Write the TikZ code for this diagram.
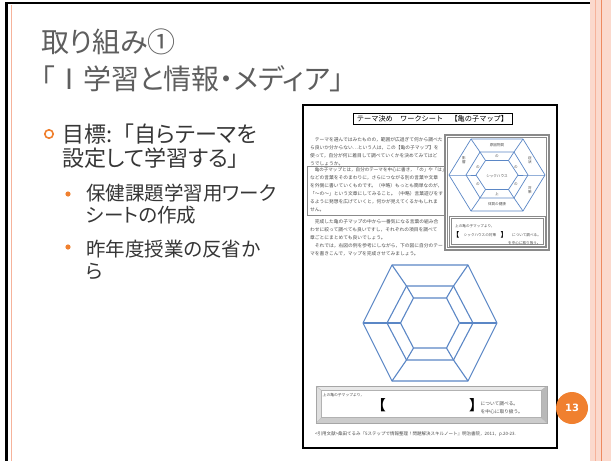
\documentclass[tikz,border=0pt]{standalone}
\usepackage{fontspec}
\newfontfamily\jp[RawFeature=+palt]{Noto Sans CJK JP}
\newfontfamily\jpm{Noto Sans CJK JP}
\newfontfamily\numfont{DejaVu Sans}
\definecolor{titlegray}{HTML}{5E5E5E}
\definecolor{bodygray}{HTML}{363636}
\definecolor{accent}{HTML}{F0802F}
\definecolor{salmonbg}{HTML}{FBD9CD}
\definecolor{salmonline}{HTML}{F6B39B}
\definecolor{salmondark}{HTML}{EE8A60}
\definecolor{hexblue}{HTML}{5B87C6}
\definecolor{wsgray}{HTML}{4A4A4A}
\definecolor{framegray}{HTML}{8A8A8A}
\newcommand\hexcoords[6]{%
  \coordinate (#1-1) at (#2-#4,#3);
  \coordinate (#1-2) at (#2-#5,#3-#6);
  \coordinate (#1-3) at (#2+#5,#3-#6);
  \coordinate (#1-4) at (#2+#4,#3);
  \coordinate (#1-5) at (#2+#5,#3+#6);
  \coordinate (#1-6) at (#2-#5,#3+#6);}
\tikzset{
  wstext/.style={anchor=base west, inner sep=0pt, font=\jpm\fontsize{4.75}{5}\selectfont, text=wsgray},
  tinytext/.style={inner sep=0pt, font=\jpm\fontsize{3.6}{4.2}\selectfont, text=wsgray, align=center},
  hexline/.style={draw=hexblue, line width=1.1pt, line join=round},
  smallhex/.style={draw=hexblue, line width=0.7pt, line join=round},
  titletext/.style={anchor=base west, inner sep=0pt, font=\jp\fontsize{28}{28}\selectfont, text=titlegray},
  bodytext/.style={anchor=base west, inner sep=0pt, font=\jp\fontsize{22}{22}\selectfont, text=bodygray},
  subtext/.style={anchor=base west, inner sep=0pt, font=\jp\fontsize{19.5}{19.5}\selectfont, text=bodygray},
}
\begin{document}
\begin{tikzpicture}[x=1pt,y=-1pt]
\useasboundingbox (0,0) rectangle (611,461);
\fill[white] (0,0) rectangle (611,461);
% right decorative stripes
\fill[salmonbg] (590,0) rectangle (611,461);
\draw[salmonline, line width=0.6pt] (595,0) -- (595,461);
\draw[salmondark, line width=0.8pt] (601,0) -- (601,461);
% frame lines
\draw[black, line width=2.5pt] (5,3) -- (590,3);
\draw[black, line width=3.5pt] (6.5,2) -- (6.5,461);
\draw[salmonline, line width=1.5pt] (11.5,5) -- (11.5,461);
% title
\node[titletext] (t1) at (41,52.6) {取り組み①};
\node[titletext] (t2) at (41,89) {「Ⅰ学習と情報・メディア」};
% bullets
\draw[accent, line width=1.6pt] (49,134) circle (4.2);
\node[bodytext] (b1) at (62,142) {目標:{\jpm 「}自らテーマを};
\node[bodytext] (b2) at (62,166.5) {設定して学習する」};
\fill[accent] (68,194) circle (2.6);
\node[subtext] (s1) at (86,200.4) {保健課題学習用ワーク};
\node[subtext] (s2) at (86,222.9) {シートの作成};
\fill[accent] (68,247) circle (2.6);
\node[subtext] (s3) at (86,256.4) {昨年度授業の反省か};
\node[subtext] (s4) at (86,278.9) {ら};
% worksheet
\draw[black, line width=1.2pt, fill=white] (303,105) rectangle (557,448);
\draw[black, line width=0.5pt] (353,113) rectangle (512,124);
\draw[black, line width=1pt] (353.5,124.5) -- (512.5,124.5) -- (512.5,113.5);
\node[inner sep=0pt, font=\jpm\fontsize{7.2}{7.2}\selectfont, text=black] (wstitle) at (432.5,118.6) {テーマ決め　ワークシート　【亀の子マップ】};
\node[wstext] (p1a) at (310,141.8) {　テーマを選んではみたものの，範囲が広過ぎて何から調べた};
\node[wstext] (p1b) at (310,149.6) {ら良いか分からない…という人は，この【亀の子マップ】を};
\node[wstext] (p1c) at (310,157.4) {使って，自分が何に着目して調べていくかを決めてみてはど};
\node[wstext] (p1d) at (310,165.0) {うでしょうか。};
\draw[framegray, line width=0.6pt] (307,166.5) rectangle (444,215.5);
\node[wstext, font=\jpm\fontsize{4.55}{5}\selectfont] (p2a) at (310,171.8) {　亀の子マップとは，自分のテーマを中心に書き，「の」や「は」};
\node[wstext] (p2b) at (310,179.8) {などの言葉をそのまわりに，さらにつながる別の言葉や文章};
\node[wstext] (p2c) at (310,187.8) {を外側に書いていくものです。（中略）もっとも簡単なのが，};
\node[wstext] (p2d) at (310,195.8) {「～の～」という文章にしてみること。（中略）言葉遊びをす};
\node[wstext] (p2e) at (310,203.8) {るように発想を広げていくと，何かが見えてくるかもしれま};
\node[wstext] (p2f) at (310,211.8) {せん。};
\node[wstext] (p3a) at (310,223.3) {　完成した亀の子マップの中から一番気になる言葉の組み合};
\node[wstext] (p3b) at (310,231.3) {わせに絞って調べても良いですし，それぞれの項目を調べて};
\node[wstext] (p3c) at (310,239.3) {章ごとにまとめても良いでしょう。};
\node[wstext] (p3d) at (310,247.3) {　それでは，右図の例を参考にしながら，下の図に自分のテー};
\node[wstext] (p3e) at (310,255.3) {マを書きこんで，マップを完成させてみましょう。};
% small example map
\draw[framegray, line width=1.3pt] (445,135) rectangle (549,250);
\draw[framegray, line width=0.4pt] (447.5,137.5) rectangle (546.5,247.5);
\hexcoords{so}{497}{175}{48}{26}{36}
\hexcoords{sm}{497}{175}{31}{17}{23}
\hexcoords{si}{497}{175}{21}{11.5}{14.5}
\draw[smallhex] (so-1)--(so-2)--(so-3)--(so-4)--(so-5)--(so-6)--cycle;
\draw[smallhex] (sm-1)--(sm-2)--(sm-3)--(sm-4)--(sm-5)--(sm-6)--cycle;
\draw[smallhex] (si-1)--(si-2)--(si-3)--(si-4)--(si-5)--(si-6)--cycle;
\foreach \k in {1,...,6} {\draw[smallhex] (so-\k)--(sm-\k)--(si-\k);}
\node[tinytext] (ltop) at (497,145.5) {原因物質};
\node[tinytext] (llu) at (464,160) {影\\響};
\node[tinytext] (lru) at (530,160) {症\\状};
\node[tinytext] (lrd) at (530,190) {対\\策};
\node[tinytext] (lbot) at (497,204.5) {体質の健康};
\node[tinytext] (rtop) at (497,156) {の};
\node[tinytext] (rlu) at (478,167) {の};
\node[tinytext] (rru) at (516,167) {の};
\node[tinytext] (rld) at (478,184) {の};
\node[tinytext] (rrd) at (516,184) {の};
\node[tinytext] (rbot) at (497,194) {上};
\node[tinytext] (cen) at (497,176) {シックハウス};
\draw[framegray, line width=0.8pt] (449,216) rectangle (545,246);
\draw[framegray, line width=0.4pt] (451,218) rectangle (543,244);
\node[tinytext, anchor=west] (sb1) at (455,226.5) {上の亀の子マップより，};
\node[inner sep=0pt, font=\jp\bfseries\fontsize{7}{7}\selectfont, text=black] (sbl) at (457.5,235) {【};
\node[tinytext] (sbt) at (480,235) {シックハウスの対策};
\node[inner sep=0pt, font=\jp\bfseries\fontsize{7}{7}\selectfont, text=black] (sbr) at (502.5,235) {】};
\node[tinytext, anchor=west] (sb3) at (512,235) {について調べる。};
\node[tinytext, anchor=west] (sb4) at (508,243.5) {を中心に取り扱う。};
% big map
\hexcoords{bo}{430}{323}{67}{38}{58}
\hexcoords{bm}{430}{323}{43}{23.5}{37}
\hexcoords{bi}{430}{323}{29.5}{16.5}{25}
\draw[hexline] (bo-1)--(bo-2)--(bo-3)--(bo-4)--(bo-5)--(bo-6)--cycle;
\draw[hexline] (bm-1)--(bm-2)--(bm-3)--(bm-4)--(bm-5)--(bm-6)--cycle;
\draw[hexline] (bi-1)--(bi-2)--(bi-3)--(bi-4)--(bi-5)--(bi-6)--cycle;
\foreach \k in {1,...,6} {\draw[hexline] (bo-\k)--(bm-\k)--(bi-\k);}
% bevelled bottom box
\fill[gray!18] (316,386) -- (547,386) -- (541,390.5) -- (321.5,390.5) -- cycle;
\fill[gray!25] (316,386) -- (321.5,390.5) -- (321.5,417.5) -- (316,423) -- cycle;
\fill[gray!55] (547,386) -- (547,423) -- (541,417.5) -- (541,390.5) -- cycle;
\fill[gray!40] (316,423) -- (547,423) -- (541,417.5) -- (321.5,417.5) -- cycle;
\draw[gray!70, line width=0.6pt] (316,386) rectangle (547,423);
\draw[gray!60, line width=0.4pt] (321.5,390.5) rectangle (541,417.5);
\draw[gray!60, line width=0.3pt] (316,386) -- (321.5,390.5) (547,386) -- (541,390.5) (316,423) -- (321.5,417.5) (547,423) -- (541,417.5);
\node[inner sep=0pt, anchor=west, font=\jpm\fontsize{3.8}{4}\selectfont, text=wsgray] (bb1) at (322.5,395) {上の亀の子マップより，};
\node[inner sep=0pt, font=\jp\bfseries\fontsize{14}{14}\selectfont, text=black] (bbl) at (382,405.5) {【};
\node[inner sep=0pt, font=\jp\bfseries\fontsize{14}{14}\selectfont, text=black] (bbr) at (473,405.5) {】};
\node[inner sep=0pt, anchor=west, font=\jpm\fontsize{4.7}{5}\selectfont, text=wsgray] (bb3) at (480.5,403.5) {について調べる。};
\node[inner sep=0pt, anchor=west, font=\jpm\fontsize{4.7}{5}\selectfont, text=wsgray] (bb4) at (480.5,412) {を中心に取り扱う。};
\node[inner sep=0pt, anchor=west, font=\jpm\fontsize{4.5}{5}\selectfont, text=wsgray] (foot) at (315,434) {<引用文献>桑田てるみ『5ステップで情報整理！問題解決スキルノート』明治書院，2011，p.20-23.};
% page number
\node[circle, fill=accent, minimum size=32pt, inner sep=0pt, text=white, font=\numfont\bfseries\fontsize{10}{10}\selectfont] (pg) at (572,408) {13};
\end{tikzpicture}
\end{document}
